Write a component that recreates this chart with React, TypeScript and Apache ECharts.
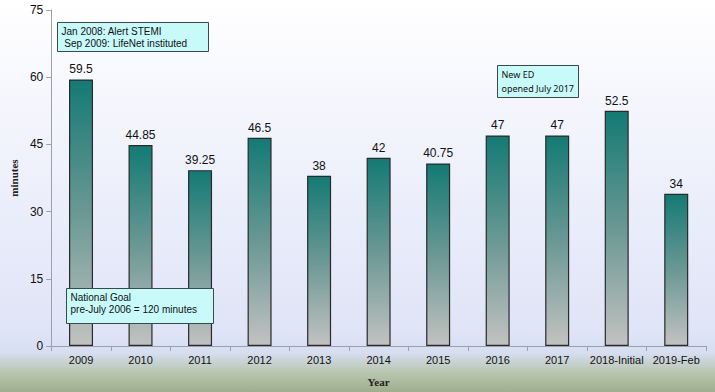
import React, { useEffect, useRef } from "react";
import * as echarts from "echarts";

const categories = ["2009", "2010", "2011", "2012", "2013", "2014", "2015", "2016", "2017", "2018-Initial", "2019-Feb"];
const values = [59.5, 44.85, 39.25, 46.5, 38, 42, 40.75, 47, 47, 52.5, 34];
const yTicks = { min: 0, max: 75, interval: 15 };

export default function App() {
  const ref = useRef<HTMLDivElement>(null);
  useEffect(() => {
    const chart = echarts.init(ref.current!, null, { renderer: "svg" });
    const font = "Arial, 'Liberation Sans', sans-serif";
    const box = (x: number, y: number, w: number, h: number, text: string, fontSize: number, family: string, lh: number, ty: number) => ({
      type: "group",
      left: x,
      top: y,
      z: 100,
      children: [
        { type: "rect", z: 100, shape: { x: 0, y: 0, width: w, height: h }, style: { fill: "#c8fafa", stroke: "#3a4a4a", lineWidth: 1 } },
        { type: "text", z: 101, x: 4, y: ty, style: { text, fill: "#111", font: `${fontSize}px ${family}`, lineHeight: lh } },
      ],
    });
    chart.setOption({
      animation: false,
      backgroundColor: "transparent",
      grid: { left: 50, right: 9, top: 10, bottom: 44, containLabel: false },
      xAxis: {
        type: "category",
        data: categories,
        name: "Year",
        nameLocation: "middle",
        nameGap: 30,
        nameTextStyle: { fontFamily: "'Liberation Serif', 'DejaVu Serif', serif", fontWeight: "bold", fontSize: 11, color: "#222" },
        axisLine: { lineStyle: { color: "#9aa0b0" } },
        axisTick: { show: true, lineStyle: { color: "#9aa0b0" } },
        axisLabel: { color: "#111", fontSize: 11, fontFamily: font, margin: 8, interval: 0 },
      },
      yAxis: {
        type: "value",
        min: yTicks.min,
        max: yTicks.max,
        interval: yTicks.interval,
        name: "minutes",
        nameLocation: "middle",
        nameGap: 30,
        nameTextStyle: { fontFamily: "'Liberation Serif', 'DejaVu Serif', serif", fontWeight: "bold", fontSize: 11, color: "#222" },
        splitLine: { show: false },
        axisLine: { show: true, lineStyle: { color: "#9aa0b0" } },
        axisTick: { show: true, length: 5, lineStyle: { color: "#9aa0b0" } },
        axisLabel: { color: "#111", fontSize: 12, fontFamily: font, margin: 8 },
      },
      series: [
        {
          type: "bar",
          data: values,
          barWidth: 24,
          z: 2,
          itemStyle: {
            color: new echarts.graphic.LinearGradient(0, 0, 0, 1, [
              { offset: 0, color: "#147a74" },
              { offset: 0.5, color: "#6a9894" },
              { offset: 1, color: "#c2c2c0" },
            ]),
            borderColor: "#2a2a2a",
            borderWidth: 1.2,
          },
          label: { show: true, position: "top", color: "#111", fontSize: 12, fontFamily: font, distance: 4 },
        },
      ],
      graphic: [
        box(57, 22, 151, 29, "Jan 2008: Alert STEMI\n Sep 2009: LifeNet instituted", 10, font, 12, 3),
        box(497, 65, 81, 32, "New ED\nopened July 2017", 9, "'Noto Sans', sans-serif", 14, 2),
        box(66, 288, 147, 35, "National Goal\npre-July 2006 = 120 minutes", 10, font, 12, 3),
      ],
    });
    return () => chart.dispose();
  }, []);
  return (
    <div
      style={{
        position: "fixed",
        left: 0,
        top: 0,
        width: 715,
        height: 392,
        background: "linear-gradient(to bottom, #ffffff 0%, #eef0fb 45%, #dfe4f7 85%, #d6def0 90%, #b8c6b0 95%, #9fae8c 100%)",
      }}
    >
      <div ref={ref} style={{ width: 715, height: 392 }} />
    </div>
  );
}
